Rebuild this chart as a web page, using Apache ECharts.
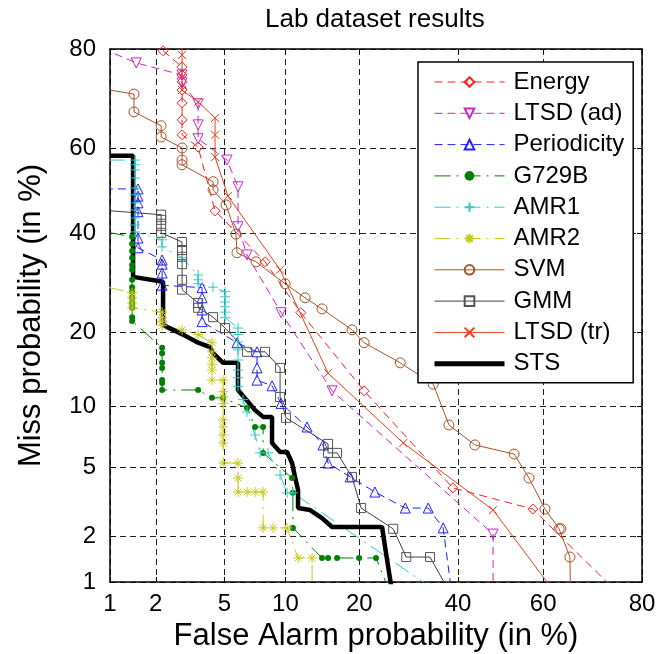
<!DOCTYPE html>
<html>
<head>
<meta charset="utf-8">
<script src="https://cdn.jsdelivr.net/npm/echarts@6/dist/echarts.min.js"></script>
<style>
  html, body { margin: 0; padding: 0; background: #fff; }
  #chart { width: 660px; height: 654px; }
</style>
</head>
<body>
<div id="chart"></div>
<script>
// DET curves: each point is [false alarm %, miss %], plotted on normal-deviate axes.
const tickValues = [1, 2, 5, 10, 20, 40, 60, 80];
const axisRange = [1, 80];

const seriesNames = ['Energy', 'LTSD (ad)', 'Periodicity', 'G729B', 'AMR1', 'AMR2', 'SVM', 'GMM', 'LTSD (tr)', 'STS'];

const energy = [[2.22,79.7],[2.89,76.9],[2.89,75.4],[2.89,74.1],[2.89,72.5],[2.89,69.9],[2.89,66.3],[2.89,63.0],[3.58,60.2],[4.45,45.2],[8.03,33.6],[11.7,23.4],[20.8,11.7],[38.8,3.86],[57.6,2.92],[74.9,0.9]];
const ltsdAd = [[0.6,81.7],[1.5,77.6],[2.89,75.4],[2.89,73.9],[3.58,69.7],[3.58,65.2],[3.58,62.1],[5.16,57.2],[5.89,50.9],[5.89,41.5],[6.55,35.1],[9.55,23.4],[15.77,11.7],[48.2,2.06],[48.2,0.9]];
const periodicity = [[0.6,50.4],[1.54,50.4],[1.54,48.7],[1.54,47.1],[1.54,45.0],[1.54,38.9],[1.54,36.7],[2.19,34.0],[2.19,33.1],[2.19,31.2],[2.19,28.7],[3.77,28.2],[3.77,26.2],[3.77,23.9],[3.77,21.8],[5.82,18.3],[7.34,16.9],[7.34,14.6],[7.34,13.0],[8.67,12.3],[9.55,10.3],[12.45,8.0],[14.5,6.53],[15.2,5.27],[18.5,4.44],[22.7,3.66],[28.5,2.96],[33.3,2.96],[36.6,2.25],[38.4,0.9]];
const g729b = [[0.6,41.4],[1.41,39.2],[1.41,37.6],[1.41,36.0],[1.41,34.5],[1.41,32.9],[1.41,31.9],[1.41,29.8],[1.41,28.3],[1.41,27.4],[1.41,26.2],[1.41,25.2],[1.41,24.3],[1.41,22.6],[1.41,21.9],[2.19,17.5],[2.19,16.7],[2.19,15.3],[2.19,14.6],[2.19,13.0],[2.19,12.65],[2.19,11.8],[3.58,11.8],[4.28,10.9],[4.92,10.9],[6.55,9.82],[7.18,8.0],[7.86,8.0],[7.86,5.95],[10.71,4.38],[10.8,3.62],[10.8,2.25],[14.37,1.45],[15.2,1.45],[16.5,1.45],[19.96,1.45],[22.9,1.45],[25.2,0.9]];
const amr1 = [[0.6,57.2],[1.47,57.2],[1.47,56.1],[1.47,54.9],[1.47,53.0],[1.47,50.6],[1.47,49.0],[1.47,47.1],[1.47,45.4],[1.47,43.5],[1.47,41.9],[1.47,40.3],[2.19,38.5],[2.19,36.9],[2.89,34.5],[3.58,30.8],[3.58,29.8],[3.58,29.0],[4.34,28.3],[5.04,27.4],[5.04,26.4],[5.04,25.4],[5.04,24.5],[5.04,23.5],[5.04,22.5],[5.89,20.7],[5.89,19.6],[5.89,18.4],[5.89,17.2],[5.89,15.7],[5.89,14.3],[5.89,13.3],[5.89,12.2],[6.25,10.7],[6.55,9.42],[7.18,7.32],[7.6,5.95],[8.3,5.95],[9.45,4.55],[10.17,3.62],[10.8,3.62],[34.3,0.9]];
const amr2 = [[0.6,29.6],[1.41,27.2],[1.41,26.2],[1.41,25.2],[1.41,24.3],[2.19,23.5],[2.19,22.5],[2.19,21.8],[2.19,21.1],[2.89,20.4],[3.58,19.6],[4.28,18.3],[4.28,16.9],[4.28,16.0],[4.28,15.1],[4.28,14.3],[4.28,13.0],[4.92,13.0],[4.92,11.6],[4.92,11.0],[4.92,10.3],[4.92,8.64],[4.92,8.0],[4.92,7.32],[4.92,6.68],[4.92,5.27],[5.89,5.27],[5.89,4.38],[5.89,3.66],[6.55,3.66],[7.18,3.66],[7.86,3.66],[7.86,2.25],[8.77,2.25],[10.17,2.25],[11.38,1.45],[13.07,1.45],[13.07,0.9]];
const svm = [[0.6,73.5],[1.45,71.7],[1.45,68.0],[2.16,65.0],[2.16,62.5],[2.89,60.0],[2.89,57.2],[2.89,56.1],[4.34,52.1],[4.34,50.2],[5.1,46.6],[5.75,39.8],[5.82,35.6],[7.26,33.6],[9.96,29.0],[12.2,26.2],[14.37,24.1],[18.8,20.4],[20.8,18.3],[27.5,15.3],[34.4,12.5],[37.9,8.18],[43.9,6.53],[53.2,5.87],[56.7,4.38],[60.4,2.92],[63.6,2.22],[64.0,2.22],[66.0,1.47],[66.1,0.9]];
const gmm = [[0.6,45.8],[2.16,44.3],[2.16,43.1],[2.16,41.7],[2.16,40.1],[2.89,38.0],[2.89,36.2],[2.89,34.7],[2.89,33.1],[2.89,29.8],[2.89,27.8],[3.58,25.2],[3.58,24.3],[4.34,22.6],[5.04,20.7],[6.55,16.9],[8.03,16.9],[9.45,14.6],[9.45,11.0],[10.06,8.84],[15.2,6.61],[15.2,5.95],[16.5,5.95],[18.8,4.44],[20.3,2.96],[26.1,2.22],[28.7,1.47],[33.7,1.47],[37.6,0.9]];
const ltsdTr = [[2.89,84],[2.89,79.0],[2.89,75.0],[2.89,72.5],[3.58,70.1],[4.45,66.7],[4.45,63.0],[4.45,57.9],[5.22,48.7],[9.45,31.9],[15.2,13.9],[28.1,6.68],[48.2,2.88],[62.0,0.9]];
const sts = [[1.0,58.2],[1.43,58.2],[1.43,30.4],[2.22,29.4],[2.22,21.2],[2.93,19.6],[3.58,18.3],[4.18,17.6],[4.34,16.7],[4.92,15.3],[5.89,15.3],[5.89,11.8],[7.18,9.6],[7.86,8.93],[8.67,8.93],[8.67,6.68],[9.45,6.02],[10.17,6.02],[10.71,5.27],[11.04,4.44],[11.38,3.76],[11.38,2.96],[12.82,2.88],[14.37,2.58],[15.77,2.28],[24.0,2.28],[24.56,1.71],[25.8,0.9]];

// Inverse of the standard normal CDF (Acklam's rational approximation).
function normInv(p) {
  const a = [-3.969683028665376e+01, 2.209460984245205e+02, -2.759285104469687e+02, 1.383577518672690e+02, -3.066479806614716e+01, 2.506628277459239e+00];
  const b = [-5.447609879822406e+01, 1.615858368580409e+02, -1.556989798598866e+02, 6.680131188771972e+01, -1.328068155288572e+01];
  const c = [-7.784894002430293e-03, -3.223964580411365e-01, -2.400758277161838e+00, -2.549732539343734e+00, 4.374664141464968e+00, 2.938163982698783e+00];
  const d = [7.784695709041462e-03, 3.224671290700398e-01, 2.445134137142996e+00, 3.754408661907416e+00];
  const pl = 0.02425, ph = 1 - pl;
  let q, r;
  if (p < pl) {
    q = Math.sqrt(-2 * Math.log(p));
    return (((((c[0]*q+c[1])*q+c[2])*q+c[3])*q+c[4])*q+c[5]) / ((((d[0]*q+d[1])*q+d[2])*q+d[3])*q+1);
  }
  if (p <= ph) {
    q = p - 0.5; r = q * q;
    return (((((a[0]*r+a[1])*r+a[2])*r+a[3])*r+a[4])*r+a[5])*q / (((((b[0]*r+b[1])*r+b[2])*r+b[3])*r+b[4])*r+1);
  }
  q = Math.sqrt(-2 * Math.log(1 - p));
  return -(((((c[0]*q+c[1])*q+c[2])*q+c[3])*q+c[4])*q+c[5]) / ((((d[0]*q+d[1])*q+d[2])*q+d[3])*q+1);
}
const dev = pct => normInv(pct / 100);
const toDev = arr => arr.map(([fa, miss]) => [dev(fa), dev(miss)]);

const tickDev = tickValues.map(dev);
const tickLabel = v => {
  const i = tickDev.findIndex(t => Math.abs(t - v) < 1e-6);
  return i >= 0 ? String(tickValues[i]) : '';
};

const FONT = '"Liberation Sans", Arial, Helvetica, sans-serif';

const SYM = {
  plus: 'path://M5,0V10M0,5H10',
  cross: 'path://M0,0L10,10M10,0L0,10',
  star: 'path://M5,0V10M0,5H10M1.6,1.6L8.4,8.4M8.4,1.6L1.6,8.4'
};

const DASH = [8, 5];
const DASHDOT = [16, 6, 2, 6];

function curve(name, data, color, lineType, symbol, size, extra) {
  return Object.assign({
    name: name,
    type: 'line',
    data: toDev(data),
    symbol: symbol,
    symbolSize: size,
    showSymbol: true,
    clip: true,
    animation: false,
    lineStyle: { color: color, width: 1, type: lineType },
    itemStyle: { color: 'rgba(0,0,0,0)', borderColor: color, borderWidth: 1 },
    emphasis: { disabled: true }
  }, extra || {});
}

const series = [
  curve(seriesNames[0], energy, '#ff1f1f', DASH, 'diamond', 10),
  curve(seriesNames[1], ltsdAd, '#cc22cc', DASH, 'triangle', 10, { symbolRotate: 180 }),
  curve(seriesNames[2], periodicity, '#1f1fff', DASH, 'triangle', 10),
  curve(seriesNames[3], g729b, '#008000', DASHDOT, 'circle', 6, {
    itemStyle: { color: '#008000', borderColor: '#008000', borderWidth: 0 }
  }),
  curve(seriesNames[4], amr1, '#33cccc', DASHDOT, SYM.plus, 10),
  curve(seriesNames[5], amr2, '#c8c81e', DASHDOT, SYM.star, 10),
  curve(seriesNames[6], svm, '#a9532a', 'solid', 'circle', 10),
  curve(seriesNames[7], gmm, '#404040', 'solid', 'rect', 9, {
    itemStyle: { color: 'rgba(0,0,0,0)', borderColor: '#555555', borderWidth: 1 }
  }),
  curve(seriesNames[8], ltsdTr, '#e8401c', 'solid', SYM.cross, 8),
  curve(seriesNames[9], sts, '#000000', 'solid', 'none', 0, {
    lineStyle: { color: '#000', width: 4.5, type: 'solid' }
  })
];

const gridLine = { show: true, lineStyle: { color: '#222', width: 1, type: [6, 4] } };

function axisBase(extra) {
  return Object.assign({
    type: 'value',
    min: dev(axisRange[0]),
    max: dev(axisRange[1]),
    axisLine: { show: true, onZero: false, lineStyle: { color: '#000', width: 1.5 } },
    axisTick: { show: true, inside: true, length: 5, customValues: tickDev, lineStyle: { color: '#000', width: 1 } },
    splitLine: { show: false }
  }, extra);
}

const chart = echarts.init(document.getElementById('chart'), null, { renderer: 'canvas' });
chart.setOption({
  backgroundColor: '#fff',
  animation: false,
  textStyle: { fontFamily: FONT },
  title: {
    text: 'Lab dataset results',
    left: 260,
    top: 2,
    textStyle: { fontFamily: FONT, fontSize: 26, fontWeight: 'normal', color: '#000' }
  },
  grid: { left: 110, top: 49, width: 532, height: 533, outerBoundsMode: 'none', containLabel: false },
  xAxis: [
    axisBase({
      position: 'bottom',
      name: 'False Alarm probability (in %)',
      nameLocation: 'middle',
      nameGap: 35,
      nameTextStyle: { fontFamily: FONT, fontSize: 31, color: '#000' },
      axisLabel: { show: true, customValues: tickDev, formatter: tickLabel, margin: 10, fontSize: 24, fontFamily: FONT, color: '#000' },
      splitLine: gridLine
    }),
    axisBase({ position: 'top', axisLabel: { show: false } })
  ],
  yAxis: [
    axisBase({
      position: 'left',
      name: 'Miss probability (in %)',
      nameLocation: 'middle',
      nameGap: 63,
      nameTextStyle: { fontFamily: FONT, fontSize: 31, color: '#000' },
      axisLabel: { show: true, customValues: tickDev, formatter: tickLabel, margin: 14, fontSize: 24, fontFamily: FONT, color: '#000' },
      splitLine: gridLine
    }),
    axisBase({ position: 'right', axisLabel: { show: false } })
  ],
  legend: {
    orient: 'vertical',
    left: 418,
    top: 62,
    padding: [8, 9, 7, 14],
    itemWidth: 70,
    itemHeight: 12,
    itemGap: 7.3,
    selectedMode: false,
    backgroundColor: '#fff',
    borderColor: '#000',
    borderWidth: 1.5,
    borderRadius: 0,
    textStyle: { fontFamily: FONT, fontSize: 24, color: '#000', lineHeight: 24, padding: [0, 0, 0, 4] },
    data: seriesNames.map(n => {
      if (n === 'STS') {
        return { name: n, itemStyle: { color: 'rgba(0,0,0,0)', borderWidth: 0 }, lineStyle: { width: 5, color: '#000', type: 'solid' } };
      }
      return { name: n, lineStyle: { width: 1 } };
    })
  },
  series: series
});
</script>
</body>
</html>
